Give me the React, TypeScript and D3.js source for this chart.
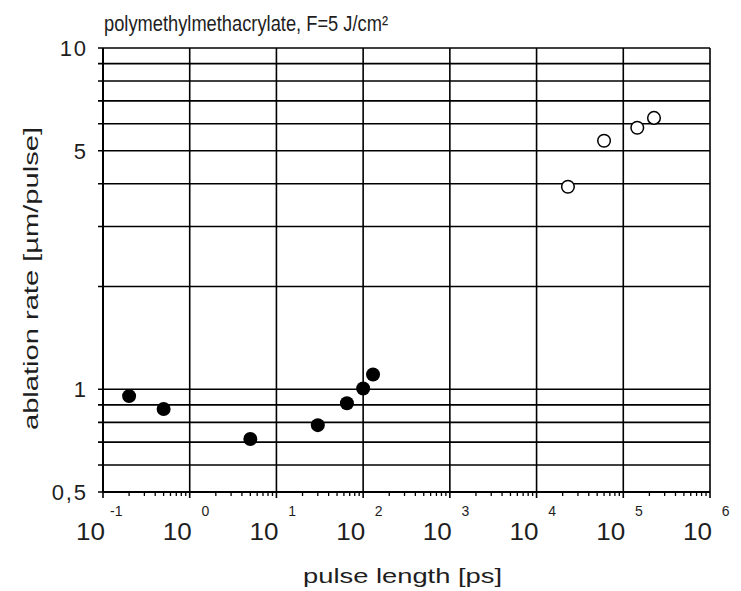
import React from 'react';
import * as d3 from 'd3';

// filled points: femto/picosecond pulses
const shortPulse = [0.2, 0.5, 5, 30, 65, 100, 130];
const shortRate = [0.955, 0.875, 0.715, 0.785, 0.91, 1.005, 1.105];

// open points: nanosecond pulses
const longPulse = [23000, 60000, 145000, 226000];
const longRate = [3.92, 5.35, 5.84, 6.24];

const xDecades = [-1, 0, 1, 2, 3, 4, 5, 6];
const yGrid = [0.5, 0.6, 0.7, 0.8, 0.9, 1, 2, 3, 4, 5, 6, 7, 8, 9, 10];
const yTickLabels = [
  { v: 10, t: '10' },
  { v: 5, t: '5' },
  { v: 1, t: '1' },
  { v: 0.5, t: '0,5' },
];

const W = 741;
const H = 591;
const left = 103;
const right = 710;
const top = 48;
const bottom = 492;

const font = '"Liberation Sans", Arial, sans-serif';
const ink = '#1e1e1e';

const App = () => {
  const x = d3.scaleLog().domain([0.1, 1e6]).range([left, right]);
  const y = d3.scaleLog().domain([0.5, 10]).range([bottom, top]);

  const minorX: number[] = [];
  xDecades.slice(0, -1).forEach(e => {
    for (let k = 2; k <= 9; k++) minorX.push(k * Math.pow(10, e));
  });

  return (
    <svg width={W} height={H} style={{ display: 'block', position: 'absolute', left: 0, top: 0, background: '#fff' }}>
      <text x={104} y={31} fontFamily={font} fontSize={22} textLength={284} lengthAdjust="spacingAndGlyphs" fill={ink}>
        polymethylmethacrylate, F=5 J/cm²
      </text>

      {/* horizontal grid */}
      {yGrid.map(v => (
        <line key={'h' + v} x1={left - 5} x2={right} y1={y(v)} y2={y(v)} stroke="#000" strokeWidth={1.6} />
      ))}
      {/* vertical grid */}
      {xDecades.map(e => (
        <line key={'v' + e} x1={x(Math.pow(10, e))} x2={x(Math.pow(10, e))} y1={top} y2={bottom + 6} stroke="#000" strokeWidth={1.6} />
      ))}
      {minorX.map(v => (
        <line key={'m' + v} x1={x(v)} x2={x(v)} y1={bottom} y2={bottom + 4} stroke="#000" strokeWidth={1.3} />
      ))}
      <line x1={left} x2={left} y1={top} y2={bottom} stroke="#000" strokeWidth={2} />
      <line x1={left} x2={right} y1={bottom} y2={bottom} stroke="#000" strokeWidth={2} />

      {yTickLabels.map(d => (
        <text key={'yl' + d.v} x={86} y={y(d.v) + 8} textAnchor="end" fontFamily={font} fontSize={22} fill={ink}>
          {d.t.split('').join('\u200A')}
        </text>
      ))}

      {xDecades.map(e => {
        const px = x(Math.pow(10, e));
        return (
          <g key={'xl' + e}>
            <text x={px - 27} y={540} fontFamily={font} fontSize={24} textLength={29} lengthAdjust="spacingAndGlyphs" fill={ink}>
              10
            </text>
            <text x={px + 19.5} y={516} textAnchor="end" fontFamily={font} fontSize={14} fill={ink}>
              {e}
            </text>
          </g>
        );
      })}

      <text x={303} y={583} fontFamily={font} fontSize={21} textLength={199} lengthAdjust="spacingAndGlyphs" fill={ink}>
        pulse length [ps]
      </text>
      <text
        transform={`translate(38,430) rotate(-90)`}
        fontFamily={font}
        fontSize={21}
        textLength={303}
        lengthAdjust="spacingAndGlyphs"
        fill={ink}
      >
        ablation rate [µm/pulse]
      </text>

      {shortPulse.map((p, i) => (
        <circle key={'s' + i} cx={x(p)} cy={y(shortRate[i])} r={7} fill="#000" />
      ))}
      {longPulse.map((p, i) => (
        <circle key={'l' + i} cx={x(p)} cy={y(longRate[i])} r={6.3} fill="#fff" stroke="#000" strokeWidth={1.5} />
      ))}
    </svg>
  );
};

export default App;
